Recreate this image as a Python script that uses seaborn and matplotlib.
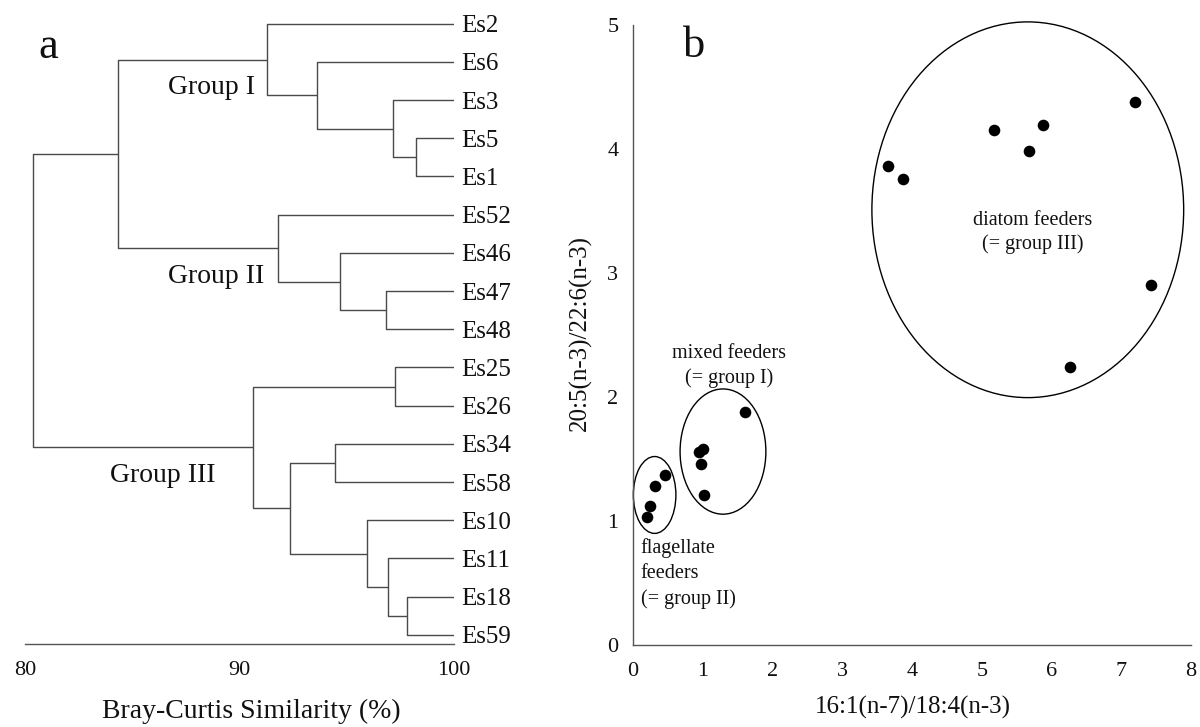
import matplotlib
matplotlib.use("Agg")
import matplotlib.pyplot as plt
from matplotlib.patches import Ellipse
import numpy as np
import pandas as pd
import seaborn as sns

# ---- dendrogram data (panel a) ----
leaves = ["Es2", "Es6", "Es3", "Es5", "Es1", "Es52", "Es46", "Es47", "Es48",
          "Es25", "Es26", "Es34", "Es58", "Es10", "Es11", "Es18", "Es59"]
# each merge joins two nodes (leaf name or earlier merge "m<i>") at a similarity (%)
merge_left = ["Es5", "Es3", "Es6", "Es2", "Es47", "Es46", "Es52", "m3",
              "Es25", "Es34", "Es18", "Es11", "Es10", "m9", "m8", "m7"]
merge_right = ["Es1", "m0", "m1", "m2", "Es48", "m4", "m5", "m6",
               "Es26", "Es58", "Es59", "m10", "m11", "m12", "m13", "m14"]
merge_similarity = [98.24, 97.17, 93.59, 91.27, 96.81, 94.69, 91.81, 84.35,
                    97.27, 94.44, 97.79, 96.92, 95.93, 92.37, 90.62, 80.36]
group_names = ["Group I", "Group II", "Group III"]
similarity_ticks = [80, 90, 100]

# ---- fatty acid ratio data (panel b) ----
flag_x = [0.20, 0.25, 0.32, 0.46]
flag_y = [1.03, 1.12, 1.28, 1.37]
mixed_x = [0.95, 1.01, 0.98, 1.02, 1.61]
mixed_y = [1.56, 1.58, 1.46, 1.21, 1.88]
diatom_x = [3.66, 3.87, 5.17, 5.68, 5.88, 7.19, 7.42, 6.27]
diatom_y = [3.86, 3.76, 4.15, 3.98, 4.19, 4.38, 2.90, 2.24]
# cluster outlines: centre x, centre y, width, height (data units)
flag_ellipse = (0.31, 1.21, 0.61, 0.62)
mixed_ellipse = (1.29, 1.56, 1.23, 1.01)
diatom_ellipse = (5.66, 3.51, 4.47, 3.03)
ratio_xticks = [0, 1, 2, 3, 4, 5, 6, 7, 8]
ratio_yticks = [0, 1, 2, 3, 4, 5]

sns.set_theme(style="white")
plt.rcParams["font.family"] = ["Liberation Serif", "DejaVu Serif"]

AX_COL = "#555555"
TXT = "#111111"
fig = plt.figure(figsize=(12, 7.27), dpi=100)
W, H = 1200, 727

# ================= panel a: dendrogram =================
axA = fig.add_axes([25 / W, (H - 644) / H, (454 - 25) / W, 639.4 / H])

pos = {name: (100.0, float(i)) for i, name in enumerate(leaves)}
for i, (a, b, s) in enumerate(zip(merge_left, merge_right, merge_similarity)):
    xa, ya = pos[a]
    xb, yb = pos[b]
    axA.plot([xa, s, s, xb], [ya, ya, yb, yb], color="#4a4a4a", lw=1.0,
             solid_capstyle="butt")
    pos[f"m{i}"] = (s, (ya + yb) / 2)

for i, name in enumerate(leaves):
    axA.text(100.33, i, name, ha="left", va="center_baseline", fontsize=18,
             color=TXT, clip_on=False)

axA.text(86.66, 1.60, group_names[0], ha="left", va="center_baseline", fontsize=20, color=TXT)
axA.text(86.66, 6.53, group_names[1], ha="left", va="center_baseline", fontsize=20, color=TXT)
axA.text(83.96, 11.76, group_names[2], ha="left", va="center_baseline", fontsize=20, color=TXT)

axA.set_xlim(80, 100)
axA.set_ylim(16.24, -0.5)
for side in ["top", "right", "left"]:
    axA.spines[side].set_visible(False)
axA.spines["bottom"].set_color(AX_COL)
axA.spines["bottom"].set_linewidth(1.0)
axA.set_xticks(similarity_ticks)
axA.set_yticks([])
axA.tick_params(axis="x", direction="inout", length=7, width=1, color=AX_COL,
                labelsize=16, pad=9, labelcolor=TXT)
axA.set_xlabel("Bray-Curtis Similarity (%)", fontsize=20, color=TXT)
axA.xaxis.set_label_coords((251.5 - 25) / 429, -(711.7 - 644) / 639.4)
axA.xaxis.label.set_va("center")
axA.set_facecolor("white")

# ================= panel b: scatter =================
axB = fig.add_axes([633 / W, (H - 645) / H, (1191 - 633) / W, 620 / H])

pts = pd.DataFrame({
    "x": flag_x + mixed_x + diatom_x,
    "y": flag_y + mixed_y + diatom_y,
})
sns.scatterplot(data=pts, x="x", y="y", ax=axB, color="black", s=70,
                edgecolor="black", linewidth=0, zorder=3, clip_on=False)

for cx, cy, w, h in [flag_ellipse, mixed_ellipse, diatom_ellipse]:
    axB.add_patch(Ellipse((cx, cy), w, h, fill=False, edgecolor="black",
                          lw=1.0, clip_on=False))

axB.text(1.38, 2.25, "mixed feeders\n(= group I)", ha="center", va="center",
         fontsize=14.5, linespacing=1.3, color=TXT)
axB.text(5.73, 3.33, "diatom feeders\n(= group III)", ha="center", va="center",
         fontsize=14.5, linespacing=1.3, color=TXT)
axB.text(0.11, 0.575, "flagellate\nfeeders\n(= group II)", ha="left", va="center",
         fontsize=14.5, linespacing=1.45, color=TXT)

axB.set_xlim(0, 8)
axB.set_ylim(0, 5)
axB.set_xticks(ratio_xticks)
axB.set_yticks(ratio_yticks)
for side in ["top", "right"]:
    axB.spines[side].set_visible(False)
for side in ["left", "bottom"]:
    axB.spines[side].set_color(AX_COL)
    axB.spines[side].set_linewidth(1.0)
axB.tick_params(axis="both", direction="out", length=7.5, width=1, color=AX_COL,
                labelsize=16, labelcolor=TXT)
axB.tick_params(axis="x", pad=5)
axB.tick_params(axis="y", pad=3)
axB.set_xlabel("16:1(n-7)/18:4(n-3)", fontsize=18, color=TXT)
axB.set_ylabel("20:5(n-3)/22:6(n-3)", fontsize=18, color=TXT)
axB.xaxis.set_label_coords((913 - 633) / 558, -(707 - 645) / 620)
axB.xaxis.label.set_va("center")
axB.yaxis.set_label_coords(-(633 - 580) / 558, (645 - 333) / 620)
axB.yaxis.label.set_va("center")
axB.set_facecolor("white")

# panel letters
fig.text(38 / W, 1 - 58 / H, "a", fontsize=32, ha="left", va="baseline", color=TXT)
fig.text(683 / W, 1 - 57 / H, "b", fontsize=32, ha="left", va="baseline", color=TXT)

fig.savefig("out.png", dpi=100, facecolor="white")
